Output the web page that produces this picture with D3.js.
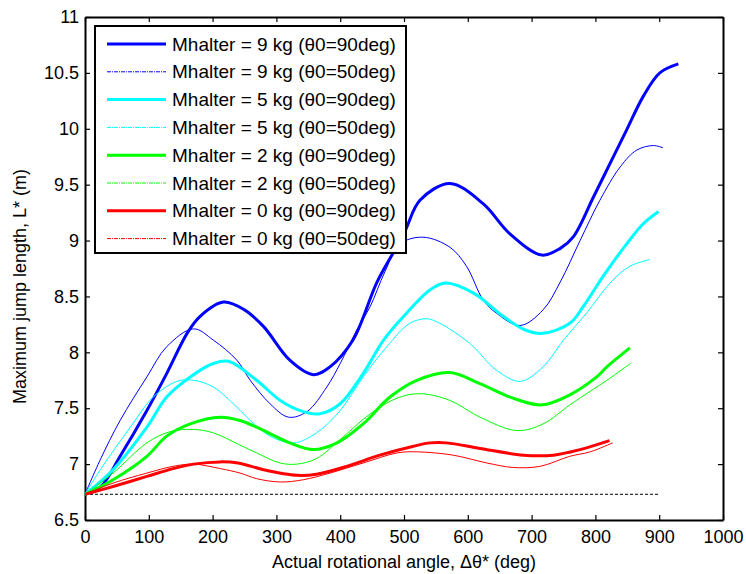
<!DOCTYPE html>
<html>
<head>
<meta charset="utf-8">
<script src="https://cdn.jsdelivr.net/npm/d3@7/dist/d3.min.js"></script>
<style>
  body { margin: 0; background: #fff; }
  svg text { font-family: Arial, "Liberation Sans", sans-serif; fill: #000; }
</style>
</head>
<body>
<div id="chart"></div>
<script>
// Values: [rotation angle (deg), jump length (m)]
const blue90 = [[0,6.73],[25,6.80],[55,7.07],[97,7.48],[128,7.81],[160,8.17],[180,8.32],[217,8.45],[250,8.38],[280,8.23],[321,7.93],[358,7.80],[384,7.87],[420,8.11],[457,8.62],[483,8.89],[502,9.09],[525,9.36],[572,9.51],[624,9.33],[666,9.06],[716,8.87],[745,8.93],[765,9.03],[797,9.39],[823,9.69],[849,9.99],[875,10.29],[901,10.50],[930,10.58]]
const blue50 = [[0,6.73],[24,7.04],[55,7.39],[97,7.78],[128,8.05],[170,8.21],[201,8.11],[238,7.93],[259,7.75],[290,7.54],[319,7.42],[348,7.47],[379,7.69],[400,7.90],[426,8.20],[447,8.41],[470,8.72],[494,8.97],[530,9.03],[572,8.94],[598,8.77],[624,8.47],[645,8.35],[682,8.24],[718,8.38],[745,8.63],[776,9.00],[807,9.36],[839,9.66],[865,9.81],[891,9.85],[906,9.83]]
const cyan90 = [[0,6.73],[44,6.95],[97,7.33],[128,7.60],[165,7.78],[201,7.90],[225,7.92],[269,7.75],[306,7.57],[342,7.47],[368,7.45],[400,7.54],[436,7.81],[468,8.11],[504,8.35],[541,8.56],[565,8.62],[609,8.53],[656,8.32],[690,8.20],[718,8.17],[760,8.26],[781,8.41],[812,8.68],[849,8.97],[875,9.15],[899,9.26]]
const cyan50 = [[0,6.73],[24,6.95],[71,7.33],[107,7.60],[144,7.74],[170,7.75],[201,7.69],[238,7.51],[259,7.39],[290,7.25],[327,7.19],[363,7.28],[400,7.48],[436,7.78],[473,8.05],[509,8.26],[536,8.30],[556,8.26],[603,8.08],[645,7.84],[682,7.74],[718,7.87],[750,8.11],[786,8.35],[823,8.62],[854,8.77],[885,8.83]]
const green90 = [[0,6.73],[44,6.86],[97,7.07],[128,7.25],[165,7.36],[212,7.42],[243,7.39],[269,7.33],[321,7.19],[358,7.13],[395,7.19],[436,7.36],[478,7.60],[520,7.75],[572,7.82],[619,7.72],[671,7.59],[716,7.53],[760,7.62],[802,7.78],[818,7.87],[854,8.04]]
const green50 = [[0,6.73],[44,6.92],[97,7.19],[133,7.29],[170,7.31],[201,7.28],[243,7.17],[269,7.10],[306,7.01],[332,7.00],[363,7.05],[400,7.22],[447,7.45],[489,7.59],[525,7.63],[572,7.57],[619,7.42],[677,7.30],[718,7.36],[760,7.53],[802,7.69],[818,7.75],[855,7.90]]
const red90 = [[0,6.73],[44,6.80],[97,6.89],[138,6.96],[170,7.00],[212,7.02],[240,7.01],[280,6.95],[332,6.90],[363,6.91],[410,6.98],[462,7.08],[515,7.16],[541,7.19],[567,7.19],[619,7.14],[687,7.08],[734,7.08],[776,7.13],[822,7.21]]
const red50 = [[0,6.73],[44,6.83],[97,6.92],[138,6.98],[170,7.00],[212,6.96],[243,6.92],[269,6.87],[306,6.84],[342,6.86],[384,6.92],[436,7.01],[489,7.10],[520,7.11],[577,7.08],[630,7.01],[671,6.97],[713,6.98],[760,7.07],[792,7.11],[827,7.19]]
const baseline = [[0,6.73],[900,6.73]]

const seriesNames = ['Mhalter = 9 kg (θ0=90deg)', 'Mhalter = 9 kg (θ0=50deg)',
                     'Mhalter = 5 kg (θ0=90deg)', 'Mhalter = 5 kg (θ0=50deg)',
                     'Mhalter = 2 kg (θ0=90deg)', 'Mhalter = 2 kg (θ0=50deg)',
                     'Mhalter = 0 kg (θ0=90deg)', 'Mhalter = 0 kg (θ0=50deg)']
const seriesData = [blue90, blue50, cyan90, cyan50, green90, green50, red90, red50]
const seriesColors = ['#0000ff', '#0000ff', '#00ffff', '#00ffff', '#00ff00', '#00ff00', '#ff0000', '#ff0000']

const xTicks = d3.range(0, 1001, 100)
const yTicks = d3.range(6.5, 11.01, 0.5)

const width = 746, height = 574
const margin = { top: 17, right: 23, bottom: 54, left: 85 }
const innerW = width - margin.left - margin.right
const innerH = height - margin.top - margin.bottom

let svg = d3.select('#chart').append('svg')
  .attr('width', width)
  .attr('height', height)

let x = d3.scaleLinear().domain([0, 1000]).range([margin.left, margin.left + innerW])
let y = d3.scaleLinear().domain([6.5, 11]).range([margin.top + innerH, margin.top])

// Axes with inward ticks on all four sides (matlab style box)
const fmt = d => d3.format('~g')(d)
svg.append('g')
  .attr('transform', 'translate(0,' + (margin.top + innerH) + ')')
  .call(d3.axisBottom(x).tickValues(xTicks).tickFormat(fmt).tickSizeInner(-5).tickSizeOuter(0).tickPadding(10))
svg.append('g')
  .attr('transform', 'translate(0,' + margin.top + ')')
  .call(d3.axisTop(x).tickValues(xTicks).tickFormat('').tickSizeInner(-5).tickSizeOuter(0))
svg.append('g')
  .attr('transform', 'translate(' + margin.left + ',0)')
  .call(d3.axisLeft(y).tickValues(yTicks).tickFormat(fmt).tickSizeInner(-5).tickSizeOuter(0).tickPadding(6))
svg.append('g')
  .attr('transform', 'translate(' + (margin.left + innerW) + ',0)')
  .call(d3.axisRight(y).tickValues(yTicks).tickFormat('').tickSizeInner(-5).tickSizeOuter(0))

svg.selectAll('.domain').attr('stroke', '#000').attr('stroke-width', 2)
svg.selectAll('.tick line').attr('stroke', '#000').attr('stroke-width', 1.2)
svg.selectAll('.tick text').style('font-size', '18px').attr('fill', '#000')

// Axis titles
svg.append('text')
  .attr('x', margin.left + innerW / 2)
  .attr('y', height - 6)
  .attr('text-anchor', 'middle')
  .style('font-size', '18px')
  .text('Actual rotational angle, Δθ* (deg)')

svg.append('text')
  .attr('transform', 'translate(26,' + (margin.top + innerH / 2 + 18) + ') rotate(-90)')
  .attr('text-anchor', 'middle')
  .style('font-size', '18px')
  .text('Maximum jump length, L* (m)')

// Curves
let line = d3.line()
  .x(d => x(d[0]))
  .y(d => y(d[1]))
  .curve(d3.curveCatmullRom.alpha(0.5))

svg.append('path')
  .datum(baseline)
  .attr('d', line)
  .attr('fill', 'none')
  .attr('stroke', '#000')
  .attr('stroke-width', 1)
  .attr('stroke-dasharray', '3,2')

seriesData.forEach((data, i) => {
  svg.append('path')
    .datum(data)
    .attr('d', line)
    .attr('fill', 'none')
    .attr('stroke', seriesColors[i])
    .attr('stroke-width', i % 2 === 0 ? 3 : 1)
    .attr('stroke-linejoin', 'round')
})

// Legend
let legend = svg.append('g').attr('class', 'legend')
legend.append('rect')
  .attr('x', 95)
  .attr('y', 26)
  .attr('width', 311)
  .attr('height', 227)
  .attr('fill', '#fff')
  .attr('stroke', '#000')
  .attr('stroke-width', 2)

seriesNames.forEach((name, i) => {
  let ly = 44 + i * 27.8
  legend.append('line')
    .attr('x1', 107)
    .attr('x2', 166)
    .attr('y1', ly)
    .attr('y2', ly)
    .attr('stroke', seriesColors[i])
    .attr('stroke-width', i % 2 === 0 ? 3 : 1)
    .attr('stroke-dasharray', i % 2 === 0 ? null : '4,1,1,1')
  legend.append('text')
    .attr('x', 172)
    .attr('y', ly)
    .attr('dy', '0.35em')
    .style('font-size', '19px')
    .text(name)
})
</script>
</body>
</html>
